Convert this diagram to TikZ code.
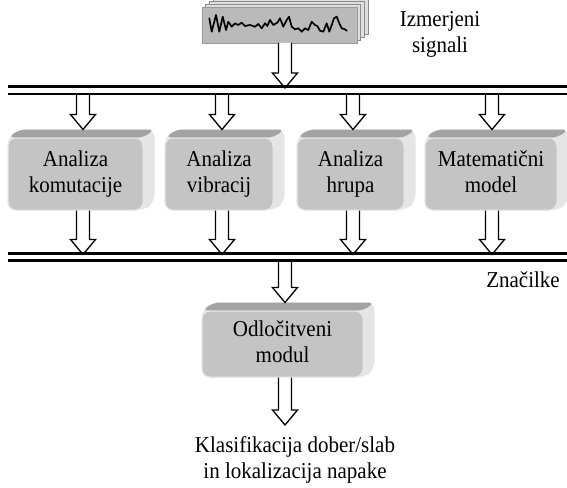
\documentclass[tikz,border=0pt]{standalone}
\usepackage{fontspec}
\usepackage{graphicx}
\setmainfont{Liberation Serif}
\usetikzlibrary{calc,backgrounds}
\newcommand\tx[1]{\scalebox{1}[1.08]{\begin{tabular}{@{}c@{}}#1\end{tabular}}}
\tikzset{
  txt/.style={font=\fontsize{21}{24}\selectfont},
  box3d/.style={txt, shape=rectangle, rounded corners=8pt, fill=black!23, draw=black!9,
    line width=1pt, align=center, inner sep=0pt, minimum height=72pt},
  sigbox/.style={shape=rectangle, fill=black!27, draw=black!40, line width=0.5pt,
    inner sep=0pt, minimum width=155pt, minimum height=36pt},
  plate/.style={fill=black!13, draw=black!45, line width=0.5pt},
  blockarrow/.style={fill=white, draw=black, line width=1.3pt, line join=miter},
  busline/.style={line width=2.8pt, draw=black},
  lbl/.style={txt, align=center, inner sep=0pt},
  wave/.style={line width=1.7pt, line join=round, line cap=round},
  sideface/.style={fill=black!10, rounded corners=8pt},
  topface/.style={fill=black!36, rounded corners=6pt},
}
% block arrow pointing down: from #1 (top of stem) to #2 (tip), at x of #1
\newcommand\barrow[2]{%
  \filldraw[blockarrow] let \p1=(#1), \p2=(#2) in
    (\x1-6.5pt,\y1) -- (\x1-6.5pt,\y2+15pt) -- (\x1-12.5pt,\y2+15pt) -- (\x1,\y2)
    -- (\x1+12.5pt,\y2+15pt) -- (\x1+6.5pt,\y2+15pt) -- (\x1+6.5pt,\y1);}
% extruded back of a 3d box
\newcommand\extrude[1]{%
  \begin{scope}[on background layer]
    \fill[sideface] (#1.north west) -- ($(#1.north west)+(11,-8)$) -- ($(#1.north east)+(11,-8)$)
      -- ($(#1.south east)+(11,-8)$) -- (#1.south east) -- (#1.south west) -- cycle;
    \fill[topface] ($(#1.north west)+(1,0)$) -- ($(#1.north west)+(12,-8)$)
      -- ($(#1.north east)+(11,-8)$) -- (#1.north east) -- cycle;
  \end{scope}}
\begin{document}
\begin{tikzpicture}[x=1pt,y=-1pt]
\useasboundingbox (0,0) rectangle (567,487);

% measured signals (stack of plates)
\foreach \k in {3,2,1}
  \filldraw[plate] (202+3.7*\k, 7-3*\k) rectangle (357+3.7*\k, 43-3*\k);
\node[sigbox] (sig) at (279.5,25) {};
\draw[wave] plot coordinates {(209.3,18.3) (211.7,31.7) (216,15) (219.3,31.7) (222.7,16.7)
  (226,30) (228.3,21.7) (231.7,26.7) (235,23.3) (238.3,25) (241.7,22.7) (245,26) (250,25)
  (255,26.7) (258.3,24) (261.7,28.3) (265,23.3) (267.3,26) (270,20) (273.3,25) (277.3,22.7)
  (280,18.3) (283.3,26.7) (286.7,20) (289,16.7) (291.7,26.7) (295,29.3) (298.3,28.3)
  (301.7,31.7) (305,28.3) (308.3,30) (311.7,21.7) (315,25) (317.3,26) (320,30.7) (323.3,31.7)
  (326.7,23.3) (329.3,31.7) (331.7,25) (334,18.3) (336.7,16.7) (339.3,23.3) (341.7,28.3)
  (345,29.3) (346.7,30.7)};
\node[lbl] (izm) at (440,34) {\tx{Izmerjeni\\signali}};

% analysis boxes
\node[box3d, minimum width=135pt] (a1) at (75.5,174) {\tx{Analiza\\komutacije}};
\node[box3d, minimum width=108pt] (a2) at (219,174) {\tx{Analiza\\vibracij}};
\node[box3d, minimum width=107pt] (a3) at (350.5,174) {\tx{Analiza\\hrupa}};
\node[box3d, minimum width=132pt] (a4) at (491,174) {\tx{Matematični\\model}};
\node[box3d, minimum width=161pt, minimum height=66pt] (dec) at (282.5,344) {\tx{Odločitveni\\modul}};
\extrude{a1}\extrude{a2}\extrude{a3}\extrude{a4}\extrude{dec}

\node[lbl] (znac) at (523,282) {\tx{Značilke}};
\node[lbl] (res) at (295,460) {\tx{Klasifikacija dober/slab\\in lokalizacija napake}};

% bus coordinates
\coordinate (b1a) at (8,86.5);  \coordinate (b1b) at (567,86.5);
\coordinate (b1c) at (8,94);    \coordinate (b1d) at (567,94);
\coordinate (b2a) at (8,253.5); \coordinate (b2b) at (567,253.5);
\coordinate (b2c) at (8,260.5); \coordinate (b2d) at (567,260.5);

% arrow coordinates
\coordinate (s0) at (285,43);  \coordinate (t0) at (285,88);
\coordinate (u1) at (83,94);   \coordinate (w1) at (83,254.5);
\coordinate (u2) at (222,94);  \coordinate (w2) at (222,254.5);
\coordinate (u3) at (353,94);  \coordinate (w3) at (353,254.5);
\coordinate (u4) at (492,94);  \coordinate (w4) at (492,254.5);
\coordinate (v0) at (285,260.5); \coordinate (r0) at (285,425);

\barrow{s0}{t0}
\barrow{u1}{$(a1.north -| u1)+(0,-8)$}
\barrow{u2}{$(a2.north -| u2)+(0,-8)$}
\barrow{u3}{$(a3.north -| u3)+(0,-8)$}
\barrow{u4}{$(a4.north -| u4)+(0,-8)$}
\barrow{$(a1.south -| w1)$}{w1}
\barrow{$(a2.south -| w2)$}{w2}
\barrow{$(a3.south -| w3)$}{w3}
\barrow{$(a4.south -| w4)$}{w4}
\barrow{v0}{$(dec.north -| v0)+(0,-8)$}
\barrow{$(dec.south -| r0)$}{r0}

% buses
\draw[busline] (b1a) -- (b1b);
\draw[busline] (b1c) -- (b1d);
\draw[busline] (b2a) -- (b2b);
\draw[busline] (b2c) -- (b2d);
\end{tikzpicture}
\end{document}
